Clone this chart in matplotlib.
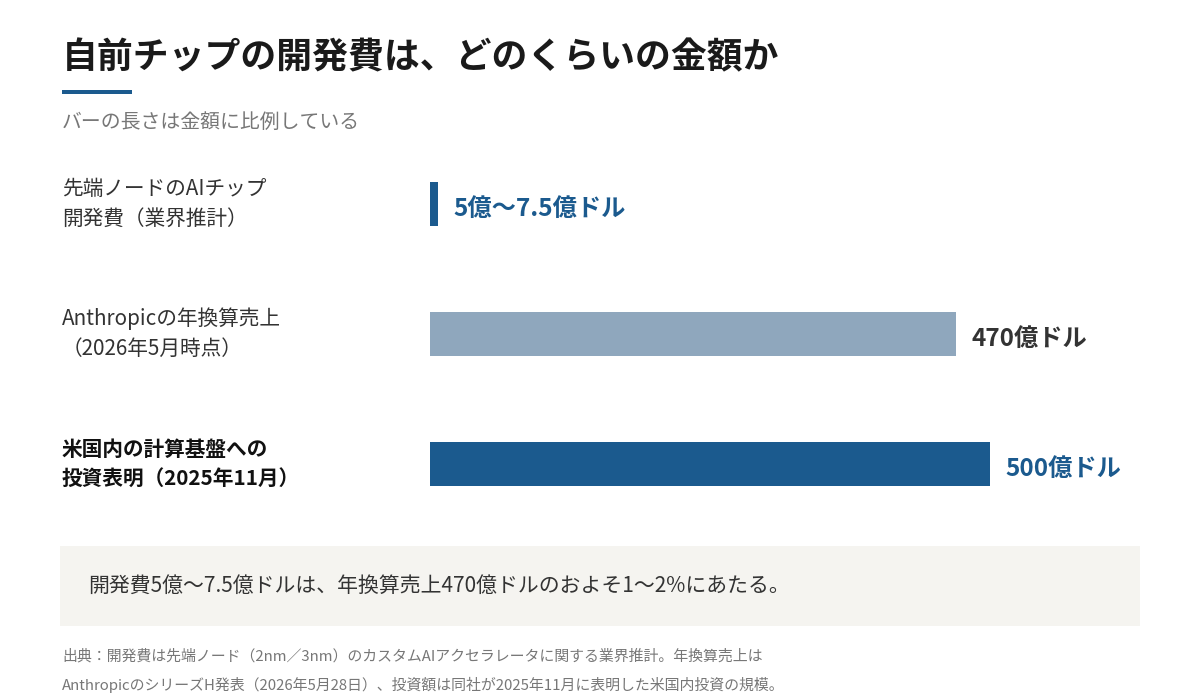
import matplotlib
matplotlib.use("Agg")
import matplotlib.pyplot as plt
from matplotlib.patches import Rectangle

plt.rcParams['font.family'] = ['Noto Sans CJK JP', 'DejaVu Sans']

categories = ["先端ノードのAIチップ\n開発費（業界推計）",
              "Anthropicの年換算売上\n（2026年5月時点）",
              "米国内の計算基盤への\n投資表明（2025年11月）"]
values = [7.5, 470, 500]
value_labels = ["5億〜7.5億ドル", "470億ドル", "500億ドル"]
bar_colors = ["#1b5a8e", "#8fa7bd", "#1b5a8e"]
label_colors = ["#1b5a8e", "#333333", "#1b5a8e"]
cat_weights = ["normal", "normal", "bold"]
cat_colors = ["#333333", "#333333", "#111111"]

title = "自前チップの開発費は、どのくらいの金額か"
subtitle = "バーの長さは金額に比例している"
note = "開発費5億〜7.5億ドルは、年換算売上470億ドルのおよそ1〜2%にあたる。"
source = ("出典：開発費は先端ノード（2nm／3nm）のカスタムAIアクセラレータに関する業界推計。年換算売上は\n"
          "AnthropicのシリーズH発表（2026年5月28日）、投資額は同社が2025年11月に表明した米国内投資の規模。")

W, H = 1200, 700
fig = plt.figure(figsize=(12, 7), dpi=100)
fig.patch.set_facecolor("white")

def fx(px): return px / W
def fy(py): return 1 - py / H

# Title
fig.text(fx(62), fy(58), title, fontsize=25.8, fontweight="bold", color="#1a1a1a",
         va="center", ha="left")
fig.patches.append(Rectangle((fx(62), fy(94)), fx(70), 4 / H, transform=fig.transFigure,
                             facecolor="#1b5a8e", edgecolor="none"))
fig.text(fx(62), fy(122), subtitle, fontsize=14.3, color="#777777", va="center", ha="left")

# Bars axes
top, step = 139, 130
ax = fig.add_axes([fx(430), fy(top + 3 * step), fx(560), 3 * step / H])
ax.set_xlim(0, 500)
ax.set_ylim(2.5, -0.5)
ax.axis("off")
ys = list(range(len(values)))
ax.barh(ys, values, height=44 / step, color=bar_colors, edgecolor="none")
for y, v, lab, c in zip(ys, values, value_labels, label_colors):
    ax.annotate(lab, xy=(v, y), xytext=(15, -5), textcoords="offset pixels",
                fontsize=17.5, fontweight="bold", color=c, va="center", ha="left")
for y, cat, w, c in zip(ys, categories, cat_weights, cat_colors):
    ax.annotate(cat, xy=(0, y), xycoords=("axes fraction", "data"), xytext=(62 - 430, 0),
                textcoords="offset pixels", fontsize=14.9, fontweight=w, color=c,
                va="center", ha="left", linespacing=1.45)

# Note box
fig.patches.append(Rectangle((fx(60), fy(626)), fx(1080), 80 / H, transform=fig.transFigure,
                             facecolor="#f5f4f0", edgecolor="none"))
fig.text(fx(88), fy(586), note, fontsize=15, color="#333333", va="center", ha="left")

# Source
fig.text(fx(62), fy(671), source, fontsize=10.75, color="#777777", va="center", ha="left",
         linespacing=1.95)

fig.savefig("out.png", dpi=100, facecolor="white")
